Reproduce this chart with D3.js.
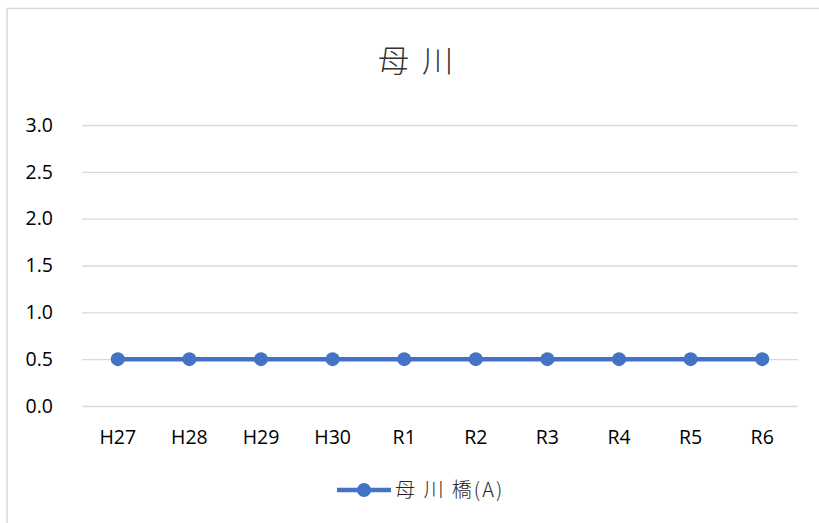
<!DOCTYPE html>
<html><head><meta charset="utf-8">
<script src="https://cdn.jsdelivr.net/npm/d3@7"></script>
<style>body{margin:0;background:#fff;}svg{display:block;}</style>
</head><body>
<script>
const categories = ["H27","H28","H29","H30","R1","R2","R3","R4","R5","R6"];
const values = [0.5,0.5,0.5,0.5,0.5,0.5,0.5,0.5,0.5,0.5];
const yTicks = [0,0.5,1.0,1.5,2.0,2.5,3.0];
const title = "母 川";
const seriesName = "母 川 橋(A)";

const W=819,H=523;
const svg=d3.select("body").append("svg").attr("width",W).attr("height",H);
svg.append("rect").attr("x",7).attr("y",8.5).attr("width",830).attr("height",540)
  .attr("fill","#fff").attr("stroke","#d9d9d9").attr("stroke-width",1.5);

const font="'Noto Sans CJK JP','Noto Sans',sans-serif";
const x=d3.scaleBand().domain(categories).range([82,798]);
const y=d3.scaleLinear().domain([0,3]).range([406,125]);

svg.append("text").attr("x",417).attr("y",72).attr("text-anchor","middle")
  .attr("font-family",font).attr("font-size",31).attr("font-weight",300).attr("letter-spacing",3).attr("fill","#333").text(title);

const ya=svg.append("g").attr("transform","translate(82,0)")
  .call(d3.axisLeft(y).tickValues(yTicks).tickSize(-716).tickFormat(d3.format(".1f")));
ya.select(".domain").remove();
ya.selectAll("line").attr("stroke","#d9d9d9").attr("stroke-width",1.3);
ya.selectAll("text").attr("x",-29).attr("font-family","'Open Sans',sans-serif").attr("font-size",19.5).attr("fill","#000");

const xa=svg.append("g").attr("transform","translate(0,406)")
  .call(d3.axisBottom(x).tickSize(0).tickPadding(24));
xa.select(".domain").remove();
xa.selectAll("text").attr("font-family","'Open Sans',sans-serif").attr("font-size",19.5).attr("fill","#000");

const cx=d=>x(d)+x.bandwidth()/2;
svg.append("path").datum(values.map((v,i)=>[cx(categories[i]),y(v)]))
  .attr("d",d3.line()).attr("fill","none").attr("stroke","#4472C4").attr("stroke-width",4.5);
svg.selectAll("circle.pt").data(values).join("circle").attr("class","pt")
  .attr("cx",(d,i)=>cx(categories[i])).attr("cy",d=>y(d)).attr("r",7).attr("fill","#4472C4");

const lg=svg.append("g");
lg.append("line").attr("x1",337).attr("x2",391).attr("y1",490).attr("y2",490).attr("stroke","#4472C4").attr("stroke-width",4.5);
lg.append("circle").attr("cx",364).attr("cy",490).attr("r",7).attr("fill","#4472C4");
lg.append("text").attr("x",395).attr("y",497).attr("font-family",font).attr("font-size",20).attr("font-weight",300).attr("letter-spacing",2).attr("fill","#262626").text(seriesName);
</script>
</body></html>
